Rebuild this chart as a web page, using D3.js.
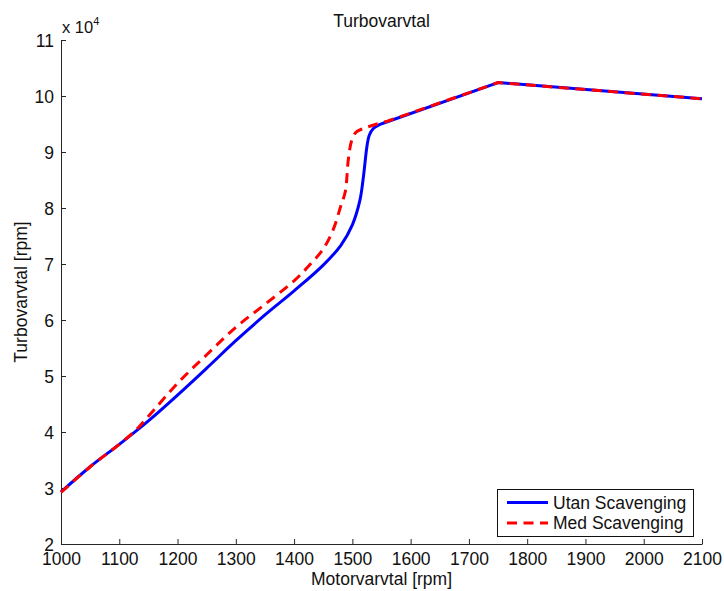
<!DOCTYPE html>
<html>
<head>
<meta charset="utf-8">
<script src="https://cdn.jsdelivr.net/npm/d3@7"></script>
<style>
  html, body { margin: 0; padding: 0; background: #fff; }
  svg { display: block; font-family: "Liberation Sans", Arial, Helvetica, sans-serif; }
</style>
</head>
<body>
<svg id="chart" width="724" height="591"></svg>
<script>
// Engine speed (rpm) and turbo speed (x 10^4 rpm) for both runs
const utanRpm = [1000, 1050, 1100, 1150, 1200, 1250, 1300, 1350, 1400, 1450, 1480, 1500, 1513, 1519, 1525, 1529, 1536, 1545, 1560, 1750, 2100];
const utanTurbo = [2.93, 3.38, 3.78, 4.20, 4.66, 5.14, 5.63, 6.09, 6.52, 6.98, 7.33, 7.70, 8.14, 8.56, 9.10, 9.30, 9.42, 9.48, 9.54, 10.24, 9.95];

const medRpm = [1000, 1050, 1100, 1130, 1150, 1200, 1250, 1300, 1350, 1400, 1430, 1450, 1467, 1480, 1488, 1493, 1499, 1507, 1519, 1542, 1560, 1750, 2100];
const medTurbo = [2.92, 3.38, 3.78, 4.05, 4.28, 4.87, 5.38, 5.87, 6.28, 6.70, 7.02, 7.27, 7.61, 8.03, 8.30, 8.86, 9.21, 9.36, 9.42, 9.50, 9.55, 10.24, 9.95];

const xTicks = [1000, 1100, 1200, 1300, 1400, 1500, 1600, 1700, 1800, 1900, 2000, 2100];
const yTicks = [2, 3, 4, 5, 6, 7, 8, 9, 10, 11];

const seriesNames = ["Utan Scavenging", "Med Scavenging"];
const titleText = "Turbovarvtal";
const xLabel = "Motorvarvtal [rpm]";
const yLabel = "Turbovarvtal [rpm]";

// Above this engine speed the recorded curves are straight segments
const smoothLimit = 1560;

const svg = d3.select("#chart");
const margin = { left: 61, right: 22, top: 40, bottom: 47 };
const W = 724, H = 591;

const x = d3.scaleLinear().domain([1000, 2100]).range([margin.left, W - margin.right]);
const y = d3.scaleLinear().domain([2, 11]).range([H - margin.bottom, margin.top]);

const fontSize = 17.5;

// Axes (ticks pointing inward, MATLAB style)
const xAxis = d3.axisBottom(x).tickValues(xTicks).tickSizeInner(-5).tickSizeOuter(0).tickPadding(9).tickFormat(d3.format("d"));
const yAxis = d3.axisLeft(y).tickValues(yTicks).tickSizeInner(-5).tickSizeOuter(0).tickPadding(7).tickFormat(d3.format("d"));

const gx = svg.append("g").attr("transform", `translate(0,${y(2)})`).call(xAxis);
const gy = svg.append("g").attr("transform", `translate(${x(1000)},0)`).call(yAxis);

[gx, gy].forEach(g => {
  g.select(".domain").attr("stroke", "#262626").attr("stroke-width", 1);
  g.selectAll(".tick line").attr("stroke", "#262626").attr("stroke-width", 1);
  g.selectAll(".tick text").attr("fill", "#111").style("font-size", fontSize + "px")
    .style("font-family", "'Liberation Sans', Arial, Helvetica, sans-serif");
});
gx.selectAll(".tick text").attr("dy", "0.71em");
gy.selectAll(".tick text").attr("dy", "0.36em");

// Exponent label
const expo = svg.append("text").attr("x", x(1000) + 1).attr("y", 33)
  .attr("fill", "#111").style("font-size", "16.5px");
expo.append("tspan").text("x 10");
expo.append("tspan").attr("dy", -8).style("font-size", "11px").text("4");

// Title and axis labels
svg.append("text").attr("x", (x(1000) + x(2100)) / 2).attr("y", 27)
  .attr("text-anchor", "middle").attr("fill", "#111").style("font-size", fontSize + "px").text(titleText);
svg.append("text").attr("x", (x(1000) + x(2100)) / 2).attr("y", 585)
  .attr("text-anchor", "middle").attr("fill", "#111").style("font-size", fontSize + "px").text(xLabel);
svg.append("text").attr("transform", `translate(27,${(y(2) + y(11)) / 2}) rotate(-90)`)
  .attr("text-anchor", "middle").attr("fill", "#111").style("font-size", fontSize + "px").text(yLabel);

// Build a path: smooth through the dense part, straight segments after it
function buildPath(rpm, turbo) {
  const pts = rpm.map((r, i) => [r, turbo[i]]);
  const smooth = pts.filter(p => p[0] <= smoothLimit);
  const straight = pts.filter(p => p[0] >= smoothLimit);
  const smoothLine = d3.line().x(d => x(d[0])).y(d => y(d[1])).curve(d3.curveCatmullRom.alpha(0.5));
  const straightLine = d3.line().x(d => x(d[0])).y(d => y(d[1]));
  return smoothLine(smooth) + straightLine(straight).replace(/^M/, "L");
}

svg.append("path").attr("d", buildPath(utanRpm, utanTurbo))
  .attr("fill", "none").attr("stroke", "#0000ff").attr("stroke-width", 3)
  .attr("stroke-linejoin", "round");
svg.append("path").attr("d", buildPath(medRpm, medTurbo))
  .attr("fill", "none").attr("stroke", "#ff0000").attr("stroke-width", 3)
  .attr("stroke-dasharray", "10,6.5");

// Legend
const lg = svg.append("g");
lg.append("rect").attr("x", 497.5).attr("y", 489.5).attr("width", 196).attr("height", 47)
  .attr("fill", "#fff").attr("stroke", "#111").attr("stroke-width", 1);
const legendRows = [
  { name: seriesNames[0], color: "#0000ff", dash: null, y: 502.5 },
  { name: seriesNames[1], color: "#ff0000", dash: "10,6.5", y: 523 }
];
legendRows.forEach(r => {
  lg.append("line").attr("x1", 507).attr("x2", 548).attr("y1", r.y).attr("y2", r.y)
    .attr("stroke", r.color).attr("stroke-width", 3).attr("stroke-dasharray", r.dash);
  lg.append("text").attr("x", 553).attr("y", r.y).attr("dy", "0.36em")
    .attr("fill", "#111").style("font-size", fontSize + "px").text(r.name);
});
</script>
</body>
</html>
